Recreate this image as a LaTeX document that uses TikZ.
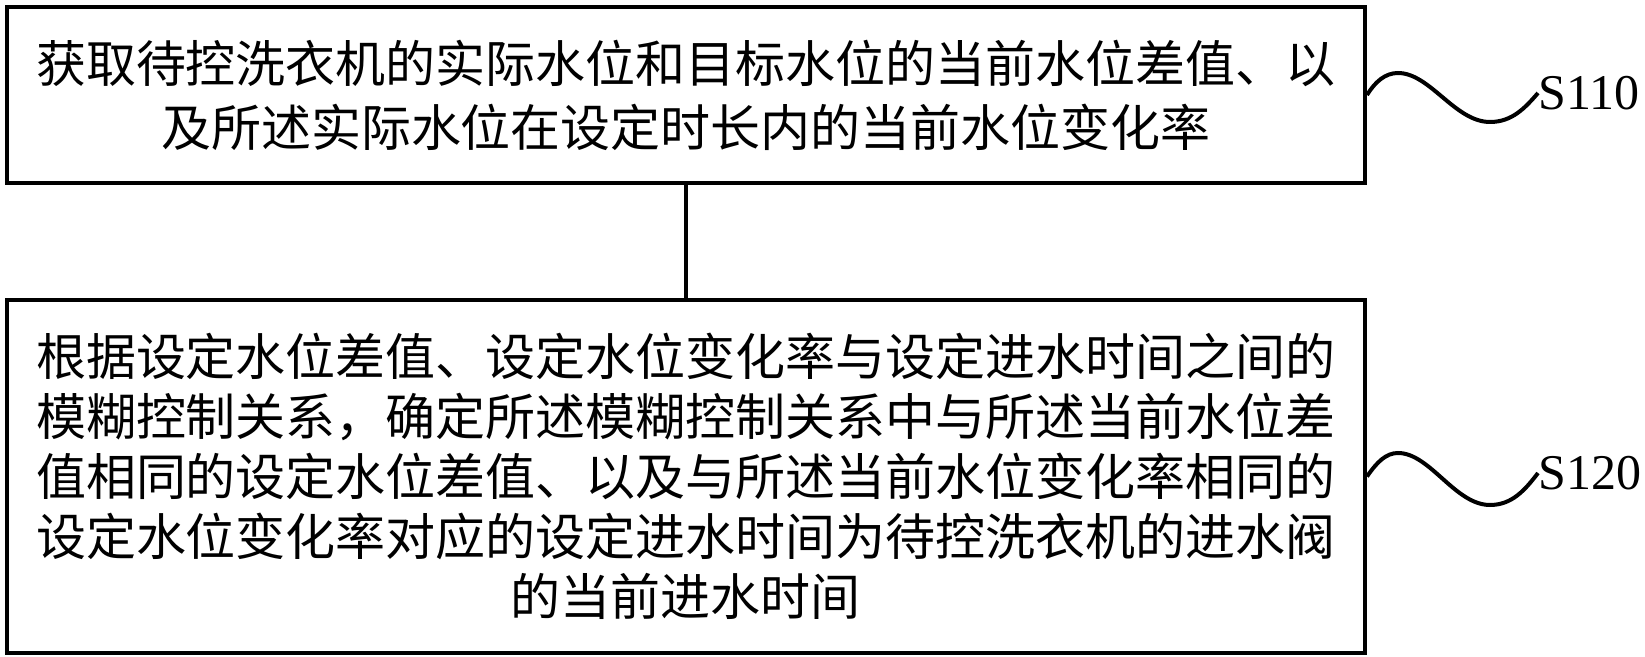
\documentclass[tikz,border=0pt]{standalone}
\usepackage{fontspec}
\setmainfont{Liberation Serif}
\newfontfamily\cjk{Noto Sans CJK SC}
\begin{document}
\begin{tikzpicture}[x=0.5pt,y=-0.5pt,
  stepbox/.style={draw=black,line width=2pt,rectangle,minimum width=679pt,align=center,inner sep=0pt},
  wave/.style={draw=black,line width=2pt},
  steplabel/.style={anchor=west,inner sep=0pt,font=\fontsize{25}{30}\selectfont}]
\useasboundingbox (0,0) rectangle (1645,657);
\node[stepbox,minimum height=88pt,font=\cjk\fontsize{25}{32}\selectfont] (b1) at (686,95)
  {获取待控洗衣机的实际水位和目标水位的当前水位差值、以\\及所述实际水位在设定时长内的当前水位变化率};
\node[stepbox,minimum height=176.5pt,font=\cjk\fontsize{25}{30}\selectfont] (b2) at (686,476.5)
  {根据设定水位差值、设定水位变化率与设定进水时间之间的\\模糊控制关系，确定所述模糊控制关系中与所述当前水位差\\值相同的设定水位差值、以及与所述当前水位变化率相同的\\设定水位变化率对应的设定进水时间为待控洗衣机的进水阀\\的当前进水时间};
\draw[line width=2pt] (b1.south) -- (b2.north);
\node[steplabel] (l1) at (1538,93) {S110};
\node[steplabel] (l2) at (1538,473) {S120};
\draw[wave] (b1.east) .. controls (1375,82) and (1385,73) .. (1398,73)
  .. controls (1430,73) and (1455,122) .. (1490,122)
  .. controls (1512,122) and (1525,108) .. (l1.west);
\draw[wave] (b2.east) .. controls (1377,462) and (1386,453) .. (1398,453)
  .. controls (1430,453) and (1455,505) .. (1490,505)
  .. controls (1512,505) and (1525,490) .. (l2.west);
\end{tikzpicture}
\end{document}
